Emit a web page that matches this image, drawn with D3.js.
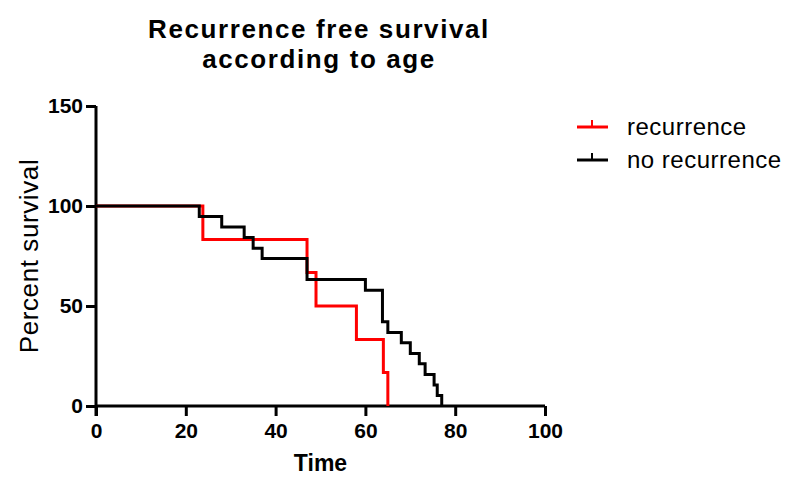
<!DOCTYPE html>
<html>
<head>
<meta charset="utf-8">
<script src="https://cdn.jsdelivr.net/npm/d3@7"></script>
<style>
  body { margin: 0; background: #fff; }
  svg { display: block; font-family: "Liberation Sans", Arial, sans-serif; }
</style>
</head>
<body>
<div id="chart"></div>
<script>
const width = 800;
const height = 490;

// Kaplan-Meier steps
const recurrenceTime = [0, 23.8, 47, 49, 58, 64, 65];
const recurrenceSurv = [100, 83.3, 66.7, 50, 33.3, 16.7, 0];
const noRecurrenceTime = [0, 23, 28, 33, 35, 37, 47, 60, 63.8, 65, 68, 70, 72, 73.3, 75.3, 76, 77];
const noRecurrenceSurv = [100, 94.7, 89.5, 84.2, 78.9, 73.7, 63.2, 57.9, 42.1, 36.8, 31.6, 26.3, 21.1, 15.8, 10.5, 5.3, 0];

const xTicks = [0, 20, 40, 60, 80, 100];
const yTicks = [0, 50, 100, 150];
const seriesNames = ["recurrence", "no recurrence"];
const seriesColors = ["#ff0000", "#000000"];

const margin = { left: 96, right: 255, top: 106, bottom: 84 };

const svg = d3.select("#chart")
  .append("svg")
  .attr("width", width)
  .attr("height", height);

const x = d3.scaleLinear().domain([0, 100]).range([margin.left, width - margin.right]);
const y = d3.scaleLinear().domain([0, 150]).range([height - margin.bottom, margin.top]);

// Title
["Recurrence free survival", "according to age"].forEach((t, i) => {
  svg.append("text")
    .attr("x", 319).attr("y", 38 + i * 30)
    .attr("text-anchor", "middle")
    .style("font-size", "26px").style("font-weight", "bold")
    .style("letter-spacing", "1.6px")
    .text(t);
});

// Axes
const xAxis = svg.append("g")
  .attr("transform", `translate(0,${y(0)})`)
  .call(d3.axisBottom(x).tickValues(xTicks).tickSize(10).tickPadding(7).tickSizeOuter(0));
const yAxis = svg.append("g")
  .attr("transform", `translate(${x(0)},0)`)
  .call(d3.axisLeft(y).tickValues(yTicks).tickSize(10).tickPadding(3).tickSizeOuter(0));

[xAxis, yAxis].forEach(ax => {
  ax.select(".domain").attr("stroke", "#000").attr("stroke-width", 3);
  ax.selectAll(".tick line").attr("stroke", "#000").attr("stroke-width", 3);
  ax.selectAll(".tick text")
    .attr("fill", "#000")
    .style("font-size", "21px")
    .style("font-weight", "bold")
    .style("font-family", "'Liberation Sans', Arial, sans-serif");
});
// y axis runs down to the x tick level
yAxis.select(".domain").attr("d", `M0,${y(150)}V${y(0) + 10}`);
xAxis.select(".domain").attr("d", `M${x(0)},0H${x(100)}`);

// Axis titles
svg.append("text")
  .attr("x", x(50)).attr("y", 471)
  .attr("text-anchor", "middle")
  .style("font-size", "23px").style("font-weight", "bold")
  .text("Time");
svg.append("text")
  .attr("transform", `translate(38,${y(75)}) rotate(-90)`)
  .attr("text-anchor", "middle")
  .style("font-size", "26px")
  .style("letter-spacing", "0.6px")
  .text("Percent survival");

// Survival curves
const line = d3.line()
  .x(d => x(d[0]))
  .y(d => y(d[1]))
  .curve(d3.curveStepAfter);

const series = [
  d3.zip(recurrenceTime, recurrenceSurv),
  d3.zip(noRecurrenceTime, noRecurrenceSurv)
];

series.forEach((s, i) => {
  svg.append("path")
    .datum(s)
    .attr("d", line)
    .attr("fill", "none")
    .attr("stroke", seriesColors[i])
    .attr("stroke-width", 3);
});

// Legend
seriesNames.forEach((name, i) => {
  const ly = 127 + i * 33;
  const g = svg.append("g");
  g.append("line")
    .attr("x1", 577).attr("x2", 608).attr("y1", ly).attr("y2", ly)
    .attr("stroke", seriesColors[i]).attr("stroke-width", 3);
  g.append("line")
    .attr("x1", 592).attr("x2", 592).attr("y1", ly - 7).attr("y2", ly)
    .attr("stroke", seriesColors[i]).attr("stroke-width", 2);
  g.append("text")
    .attr("x", 627).attr("y", ly + 8)
    .style("font-size", "24px")
    .style("letter-spacing", "0.5px")
    .text(name);
});
</script>
</body>
</html>
